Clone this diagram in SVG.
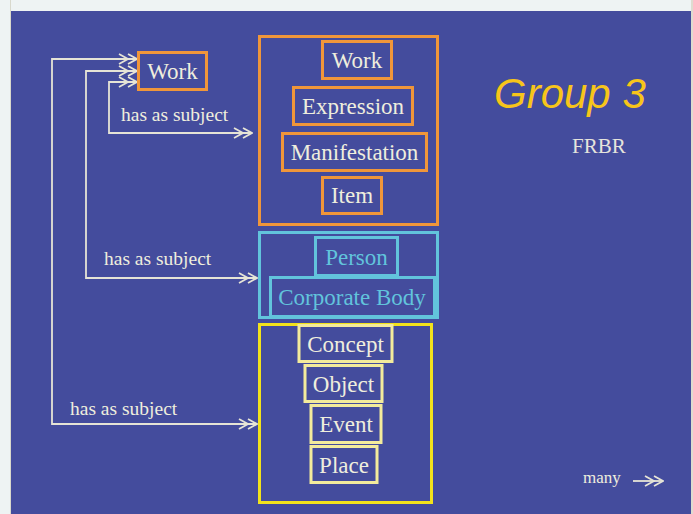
<svg xmlns="http://www.w3.org/2000/svg" width="693" height="514" viewBox="0 0 693 514">
<style>
.lbl{font-family:"Liberation Serif","Times New Roman",serif;font-size:23px;text-anchor:middle}
.cream{fill:#efeedd}
.cyan{fill:#62c4dc}
.or{fill:none;stroke:#f0963a;stroke-width:3}
.cy{fill:none;stroke:#62c4dc;stroke-width:3}
.ye{fill:none;stroke:#f2e21c;stroke-width:3}
.py{fill:none;stroke:#f3eb9c;stroke-width:3}
.conn{fill:none;stroke:#e6e4d6;stroke-width:1.8}
.sub{font-family:"Liberation Serif","Times New Roman",serif;font-size:19.5px;fill:#efeedd}
</style>
<defs>
<marker id="dbl" viewBox="0 0 20 12" refX="19" refY="6" markerWidth="20" markerHeight="12" markerUnits="userSpaceOnUse" orient="auto-start-reverse">
<path d="M1,1 L10,6 L1,11 M10,1 L19,6 L10,11" fill="none" stroke="#e6e4d6" stroke-width="1.8"/>
</marker>
</defs>
<rect x="0" y="0" width="693" height="514" fill="#eef3f3"/>
<rect x="10" y="0" width="1" height="514" fill="#d8d8cc"/>
<rect x="11" y="11" width="680" height="503" fill="#444c9d"/>
<rect x="691" y="0" width="2" height="514" fill="#dedcd0"/>

<g id="connectors">
<path class="conn" d="M137,59 L52,59 L52,424 L257,424" marker-start="url(#dbl)" marker-end="url(#dbl)"/>
<path class="conn" d="M137,71 L86,71 L86,278 L257,278" marker-start="url(#dbl)" marker-end="url(#dbl)"/>
<path class="conn" d="M137,82 L109,82 L109,133 L252,133" marker-start="url(#dbl)" marker-end="url(#dbl)"/>
</g>

<g id="labels">
<text class="sub" x="121" y="121">has as subject</text>
<text class="sub" x="104" y="265">has as subject</text>
<text class="sub" x="70" y="415">has as subject</text>
</g>

<g id="work-left">
<rect class="or" x="138.5" y="52.5" width="68" height="37"/>
<text class="lbl cream" x="172.5" y="79">Work</text>
</g>

<g id="group1">
<rect class="or" x="259.5" y="36.5" width="178" height="188"/>
<g id="work"><rect class="or" x="322.5" y="41.5" width="69" height="37"/><text class="lbl cream" x="357" y="68">Work</text></g>
<g id="expression"><rect class="or" x="293.5" y="87.5" width="119" height="37"/><text class="lbl cream" x="353" y="114">Expression</text></g>
<g id="manifestation"><rect class="or" x="282.5" y="133.5" width="144" height="37"/><text class="lbl cream" x="354.5" y="160">Manifestation</text></g>
<g id="item"><rect class="or" x="322.5" y="177.5" width="59" height="36"/><text class="lbl cream" x="352" y="203">Item</text></g>
</g>

<g id="group2">
<rect class="cy" x="259.5" y="232.5" width="178" height="85"/>
<g id="person"><rect class="cy" x="315.5" y="237.5" width="82" height="38"/><text class="lbl cyan" x="356.5" y="265">Person</text></g>
<g id="corporate-body"><rect class="cy" x="270.5" y="277.5" width="164" height="39"/><text class="lbl cyan" x="352" y="305">Corporate Body</text></g>
</g>

<g id="group3">
<rect class="ye" x="259.5" y="324.5" width="172" height="178"/>
<g id="concept"><rect class="py" x="299" y="325.5" width="93" height="36"/><text class="lbl cream" x="345.5" y="352">Concept</text></g>
<g id="object"><rect class="py" x="305" y="365.5" width="77" height="36"/><text class="lbl cream" x="343.5" y="392">Object</text></g>
<g id="event"><rect class="py" x="311" y="405.5" width="70" height="37"/><text class="lbl cream" x="346" y="432">Event</text></g>
<g id="place"><rect class="py" x="311" y="446.5" width="66" height="36"/><text class="lbl cream" x="344" y="473">Place</text></g>
</g>

<g id="title">
<text x="494" y="108" font-family="Liberation Sans, Arial, sans-serif" font-style="italic" font-size="42" fill="#f7c51a">Group 3</text>
<text x="572" y="153" font-family="Liberation Serif, Times New Roman, serif" font-size="21" fill="#e6e4dc">FRBR</text>
</g>

<g id="legend">
<text x="583" y="483" font-family="Liberation Serif, Times New Roman, serif" font-size="17" fill="#efeedd">many</text>
<path class="conn" d="M633,481 L663,481" marker-end="url(#dbl)"/>
</g>
</svg>
